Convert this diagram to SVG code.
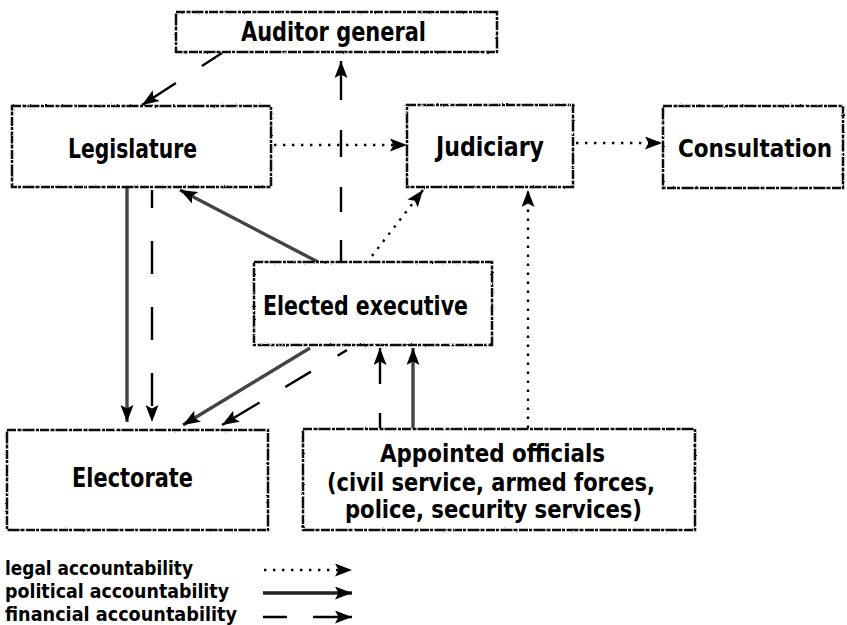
<svg xmlns="http://www.w3.org/2000/svg" width="847" height="625" viewBox="0 0 847 625">
<style>
.box{fill:#fff;stroke:#111;stroke-width:2.5;stroke-dasharray:9 1.5 4 1 12 1.5 3 1;filter:url(#rough)}
.lbl{font-family:"DejaVu Sans Condensed","DejaVu Sans",sans-serif;font-weight:bold;font-size:27px;fill:#000}
.leg{font-family:"DejaVu Sans Condensed","DejaVu Sans",sans-serif;font-weight:bold;font-size:19px;fill:#000}
.legal{fill:none;stroke:#000;stroke-width:2.4;stroke-dasharray:2.4 6.6;marker-end:url(#ah)}
.pol{fill:none;stroke:#444;stroke-width:3.4;marker-end:url(#ah)}
.fin{fill:none;stroke:#000;stroke-width:2.4;marker-end:url(#ah)}
</style>
<defs>
<filter id="rough" x="-5%" y="-5%" width="110%" height="110%">
<feTurbulence type="fractalNoise" baseFrequency="0.9" numOctaves="1" seed="3" result="n"/>
<feDisplacementMap in="SourceGraphic" in2="n" scale="2.2" xChannelSelector="R" yChannelSelector="G"/>
</filter>
<marker id="ah" markerUnits="userSpaceOnUse" markerWidth="17" markerHeight="13" refX="17" refY="6.5" orient="auto" viewBox="0 0 17 13">
<path d="M0,0 L17,6.5 L0,13 L3.5,6.5 z" fill="#000"/>
</marker>
</defs>
<rect width="847" height="625" fill="#fff"/>
<g id="connectors">
<line class="fin" x1="222" y1="53" x2="142" y2="105" stroke-dasharray="24 31 60"/>
<line class="fin" x1="341" y1="262" x2="341" y2="61" stroke-dasharray="22 28 25 30 27 30 60"/>
<line class="legal" x1="274" y1="145" x2="407" y2="145"/>
<line class="legal" x1="576" y1="143" x2="662" y2="143"/>
<line class="pol" x1="318" y1="262" x2="180" y2="190"/>
<line class="legal" x1="372" y1="256" x2="423" y2="190"/>
<line class="legal" x1="528" y1="428" x2="528" y2="190"/>
<line class="pol" x1="127" y1="188" x2="127" y2="422"/>
<line class="fin" x1="152" y1="190" x2="152" y2="422" stroke-dasharray="33 33" stroke-dashoffset="15"/>
<line class="pol" x1="310" y1="348" x2="183" y2="425"/>
<line class="fin" x1="347" y1="350" x2="222" y2="425" stroke-dasharray="11 31 30 30 60"/>
<line class="fin" x1="380" y1="428" x2="380" y2="348" stroke-dasharray="15 29 60"/>
<line class="pol" x1="413" y1="428" x2="413" y2="348"/>
</g>
<g id="auditor">
<rect class="box" x="176" y="12" width="321" height="40"/>
<text class="lbl" x="241" y="41" textLength="185" lengthAdjust="spacingAndGlyphs">Auditor general</text>
</g>
<g id="legislature">
<rect class="box" x="12" y="106" width="259" height="81"/>
<text class="lbl" x="68" y="158" textLength="129" lengthAdjust="spacingAndGlyphs">Legislature</text>
</g>
<g id="judiciary">
<rect class="box" x="407" y="105" width="166" height="82"/>
<text class="lbl" x="436" y="156" textLength="108" lengthAdjust="spacingAndGlyphs">Judiciary</text>
</g>
<g id="consultation">
<rect class="box" x="663" y="106" width="180" height="82"/>
<text class="lbl" style="font-size:24px" x="678" y="157" textLength="154" lengthAdjust="spacingAndGlyphs">Consultation</text>
</g>
<g id="executive">
<rect class="box" x="254" y="262" width="238" height="83"/>
<text class="lbl" x="263" y="315" textLength="205" lengthAdjust="spacingAndGlyphs">Elected executive</text>
</g>
<g id="electorate">
<rect class="box" x="7" y="430" width="261" height="100"/>
<text class="lbl" x="72" y="487" textLength="121" lengthAdjust="spacingAndGlyphs">Electorate</text>
</g>
<g id="appointed">
<rect class="box" x="303" y="429" width="392" height="101"/>
<text class="lbl" style="font-size:24px" x="380" y="462" textLength="225" lengthAdjust="spacingAndGlyphs">Appointed officials</text>
<text class="lbl" style="font-size:24px" x="327" y="491" textLength="328" lengthAdjust="spacingAndGlyphs">(civil service, armed forces,</text>
<text class="lbl" style="font-size:24px" x="345" y="518" textLength="297" lengthAdjust="spacingAndGlyphs">police, security services)</text>
</g>
<g id="legend">
<text class="leg" x="5" y="575" textLength="188" lengthAdjust="spacingAndGlyphs">legal accountability</text>
<text class="leg" x="5" y="598" textLength="224" lengthAdjust="spacingAndGlyphs">political accountability</text>
<text class="leg" x="5" y="621" textLength="232" lengthAdjust="spacingAndGlyphs">financial accountability</text>
<line class="legal" x1="264" y1="570" x2="352" y2="570"/>
<line class="pol" x1="263" y1="593" x2="352" y2="593" style="stroke:#222"/>
<line class="fin" x1="263" y1="617" x2="352" y2="617" stroke-dasharray="24 26 60"/>
</g>
</svg>
